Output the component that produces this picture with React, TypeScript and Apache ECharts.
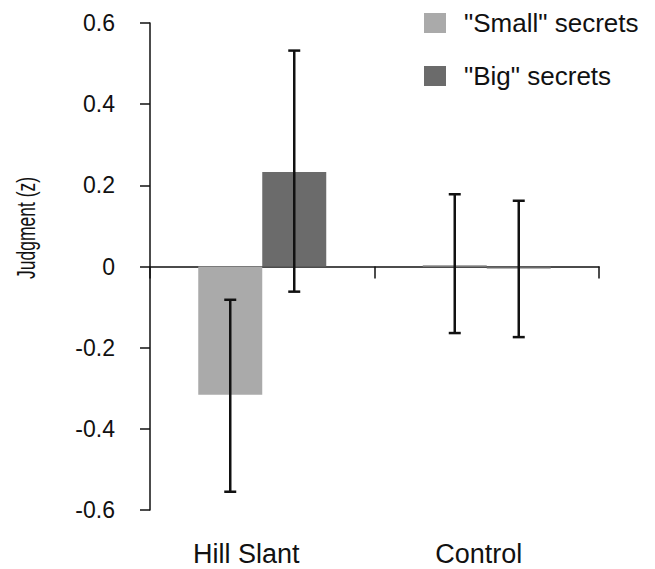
import React, { useEffect, useRef } from "react";
import * as echarts from "echarts";

const categories = ["Hill Slant", "Control"];
const seriesNames = ['"Small" secrets', '"Big" secrets'];
const smallValues = [-0.316, 0.004];
const bigValues = [0.233, -0.005];
const smallErrLow = [-0.555, -0.164];
const smallErrHigh = [-0.082, 0.178];
const bigErrLow = [-0.062, -0.174];
const bigErrHigh = [0.532, 0.162];
const yTicks = [-0.6, -0.4, -0.2, 0, 0.2, 0.4, 0.6];

const BAR_W = 64;
const FONT = "'Liberation Sans', Arial, sans-serif";

function errSeries(low: number[], high: number[], offset: number) {
  return {
    type: "custom",
    xAxisIndex: 0,
    yAxisIndex: 0,
    z: 10,
    silent: true,
    data: categories.map((_, i) => [i, low[i], high[i]]),
    renderItem: (params: any, api: any) => {
      const i = api.value(0);
      const lo = api.coord([i, api.value(1)]);
      const hi = api.coord([i, api.value(2)]);
      const x = lo[0] + offset;
      const cap = 6;
      const st = { stroke: "#111", lineWidth: 2.5 };
      return {
        type: "group",
        children: [
          { type: "line", shape: { x1: x, y1: lo[1], x2: x, y2: hi[1] }, style: st },
          { type: "line", shape: { x1: x - cap, y1: lo[1], x2: x + cap, y2: lo[1] }, style: st },
          { type: "line", shape: { x1: x - cap, y1: hi[1], x2: x + cap, y2: hi[1] }, style: st },
        ],
      };
    },
  };
}

export default function App() {
  const ref = useRef<HTMLDivElement>(null);
  useEffect(() => {
    if (!ref.current) return;
    document.body.style.margin = "0";
    const chart = echarts.init(ref.current, undefined, { renderer: "svg" });
    const labelBase = { fontSize: 27, color: "#111", fontFamily: FONT };
    chart.setOption({
      animation: false,
      backgroundColor: "#ffffff",
      textStyle: { fontFamily: FONT },
      grid: { left: 150, right: 56, top: 23, bottom: 59 },
      legend: {
        orient: "vertical",
        left: 419,
        top: 5,
        itemWidth: 22,
        itemHeight: 20,
        itemGap: 27,
        icon: "rect",
        data: seriesNames,
        textStyle: {
          fontSize: 26,
          lineHeight: 26,
          color: "#111",
          fontFamily: FONT,
          padding: [0, 0, 0, 13],
        },
      },
      xAxis: [
        {
          type: "category",
          data: categories,
          position: "bottom",
          axisLine: { show: false, onZero: false },
          axisTick: { show: false },
          axisLabel: {
            ...labelBase,
            margin: 30,
            formatter: (v: string, i: number) => `{c${i}|${v}}`,
            rich: {
              c0: { ...labelBase, padding: [0, 32, 0, 0] },
              c1: { ...labelBase, padding: [0, 16, 0, 0] },
            },
          },
        },
        {
          type: "category",
          data: categories,
          position: "bottom",
          axisLine: { show: true, onZero: true, lineStyle: { color: "#111", width: 1.5 } },
          axisTick: { show: true, length: 12, inside: false, lineStyle: { color: "#111", width: 1.5 } },
          axisLabel: { show: false },
        },
      ],
      yAxis: {
        type: "value",
        min: yTicks[0],
        max: yTicks[yTicks.length - 1],
        interval: 0.2,
        axisLine: { show: true, lineStyle: { color: "#111", width: 1.5 } },
        axisTick: { show: true, length: 10, lineStyle: { color: "#111", width: 1.5 } },
        splitLine: { show: false },
        axisLabel: {
          fontSize: 23,
          color: "#111",
          margin: 35,
          fontFamily: FONT,
          formatter: (v: number) => (Math.abs(v) < 1e-9 ? "0" : String(Math.round(v * 10) / 10)),
        },
      },
      graphic: [
        {
          type: "text",
          x: 26,
          y: 228,
          rotation: Math.PI / 2,
          scaleX: 0.7,
          style: {
            text: "Judgment (z)",
            fontSize: 25,
            fontFamily: FONT,
            fill: "#111",
            textAlign: "center",
            textVerticalAlign: "middle",
          },
        },
      ],
      series: [
        {
          name: seriesNames[0],
          type: "bar",
          xAxisIndex: 0,
          data: smallValues,
          barWidth: BAR_W,
          barGap: "0%",
          itemStyle: { color: "#aaaaaa" },
        },
        {
          name: seriesNames[1],
          type: "bar",
          xAxisIndex: 0,
          data: bigValues,
          barWidth: BAR_W,
          barGap: "0%",
          itemStyle: { color: "#6b6b6b" },
        },
        errSeries(smallErrLow, smallErrHigh, -BAR_W / 2),
        errSeries(bigErrLow, bigErrHigh, BAR_W / 2),
      ],
    });
    return () => chart.dispose();
  }, []);
  return <div ref={ref} style={{ width: 655, height: 569 }} />;
}
